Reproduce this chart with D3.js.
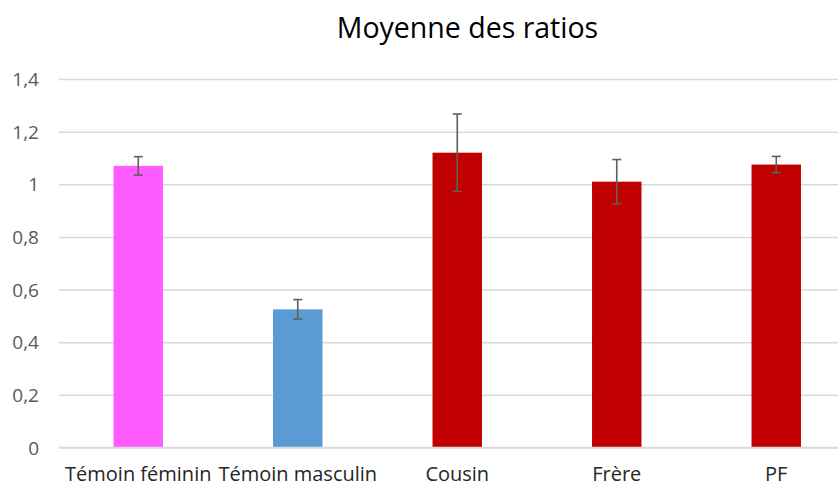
<!DOCTYPE html>
<html>
<head>
<meta charset="utf-8">
<script src="https://cdn.jsdelivr.net/npm/d3@7/dist/d3.min.js"></script>
<style>
  html, body { margin: 0; padding: 0; background: #fff; }
  svg { display: block; }
  text { font-family: "Open Sans", "Liberation Sans", sans-serif; }
</style>
</head>
<body>
<svg id="chart" width="838" height="486"></svg>
<script>
// Mean ratio per group, with error bar half-widths
const categories = ["Témoin féminin", "Témoin masculin", "Cousin", "Frère", "PF"];
const means = [1.07, 0.525, 1.12, 1.01, 1.075];
const errors = [0.035, 0.037, 0.147, 0.084, 0.031];
const barColors = ["#FF5CFF", "#5B9BD5", "#C00000", "#C00000", "#C00000"];
const yTicks = [0, 0.2, 0.4, 0.6, 0.8, 1, 1.2, 1.4];
const chartTitle = "Moyenne des ratios";

const svg = d3.select("#chart");
const W = 838;

const x = d3.scaleBand()
  .domain(categories)
  .range([58.5, 856])
  .paddingInner(0.69)
  .paddingOuter(0.345);

const y = d3.scaleLinear()
  .domain([0, 1.4])
  .range([447.5, 79]);

const fmt = v => String(v).replace(".", ",");

// Horizontal gridlines + y labels
const yAxis = d3.axisLeft(y)
  .tickValues(yTicks)
  .tickFormat(fmt)
  .tickSize(-(W - 59))
  .tickPadding(20);

const gy = svg.append("g")
  .attr("transform", "translate(59,0)")
  .call(yAxis);
gy.select(".domain").remove();
gy.selectAll(".tick line")
  .attr("stroke", "#d9d9d9")
  .attr("stroke-width", 1.5);
gy.selectAll(".tick text")
  .attr("fill", "#595959")
  .attr("font-size", 19)
  .attr("dy", "0.35em");

// Bars
svg.append("g")
  .selectAll("rect")
  .data(categories)
  .join("rect")
  .attr("x", d => x(d))
  .attr("width", x.bandwidth())
  .attr("y", (d, i) => y(means[i]))
  .attr("height", (d, i) => y(0) - y(means[i]))
  .attr("fill", (d, i) => barColors[i]);

// Baseline
svg.append("line")
  .attr("x1", 59).attr("x2", W)
  .attr("y1", y(0)).attr("y2", y(0))
  .attr("stroke", "#d9d9d9")
  .attr("stroke-width", 1.5);

// Error bars
const eb = svg.append("g")
  .attr("stroke", "#5f5f5f")
  .attr("stroke-width", 1.6)
  .selectAll("g")
  .data(categories)
  .join("g")
  .attr("transform", d => `translate(${x(d) + x.bandwidth() / 2},0)`);
eb.append("line")
  .attr("y1", (d, i) => y(means[i] + errors[i]))
  .attr("y2", (d, i) => y(means[i] - errors[i]));
eb.append("line")
  .attr("x1", -4.5).attr("x2", 4.5)
  .attr("y1", (d, i) => y(means[i] + errors[i]))
  .attr("y2", (d, i) => y(means[i] + errors[i]));
eb.append("line")
  .attr("x1", -4.5).attr("x2", 4.5)
  .attr("y1", (d, i) => y(means[i] - errors[i]))
  .attr("y2", (d, i) => y(means[i] - errors[i]));

// Category labels
const xAxis = d3.axisBottom(x).tickSize(0).tickPadding(0);
const gx = svg.append("g")
  .attr("transform", `translate(0,${y(0)})`)
  .call(xAxis);
gx.select(".domain").remove();
gx.selectAll(".tick text")
  .attr("fill", "#262626")
  .attr("font-size", 20)
  .attr("dy", null)
  .attr("y", 33);

// Title
svg.append("text")
  .attr("x", 467.5)
  .attr("y", 38)
  .attr("text-anchor", "middle")
  .attr("font-size", 28.5)
  .attr("fill", "#000")
  .text(chartTitle);
</script>
</body>
</html>
